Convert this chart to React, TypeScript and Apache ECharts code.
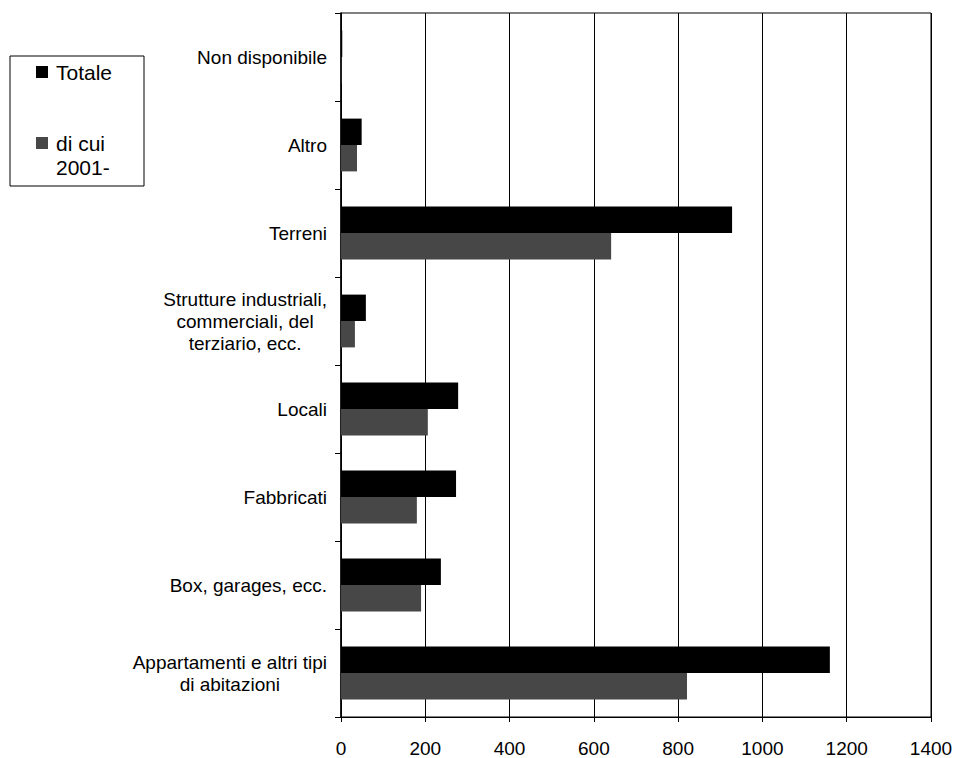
import React, { useEffect, useRef } from "react";
import * as echarts from "echarts";

const categories = [
  "Appartamenti e altri tipi di abitazioni",
  "Box, garages, ecc.",
  "Fabbricati",
  "Locali",
  "Strutture industriali, commerciali, del terziario, ecc.",
  "Terreni",
  "Altro",
  "Non disponibile",
];

// Wrapped label lines (as in the original)
const categoryLines: Record<string, string[]> = {
  "Appartamenti e altri tipi di abitazioni": ["Appartamenti e altri tipi", "di abitazioni"],
  "Strutture industriali, commerciali, del terziario, ecc.": [
    "Strutture industriali,",
    "commerciali, del",
    "terziario, ecc.",
  ],
};

const totale = [1160, 237, 273, 278, 59, 928, 49, 3];
const diCui2001 = [821, 190, 180, 206, 33, 641, 38, 1];

const xTicks = { min: 0, max: 1400, interval: 200 };

const FONT = "'Liberation Sans', Arial, Helvetica, sans-serif";
const GRAY = "#474747";

export default function App() {
  const ref = useRef<HTMLDivElement>(null);

  useEffect(() => {
    if (!ref.current) return;
    const chart = echarts.init(ref.current, undefined, { renderer: "svg" });
    chart.setOption({
      animation: false,
      backgroundColor: "#fff",
      grid: {
        left: 341,
        right: 26,
        top: 13,
        bottom: 40,
        show: true,
        borderColor: "#000",
        borderWidth: 1,
      },
      xAxis: {
        type: "value",
        min: xTicks.min,
        max: xTicks.max,
        interval: xTicks.interval,
        axisLine: { show: true, lineStyle: { color: "#000", width: 1 } },
        axisTick: { show: true, inside: false, length: 5, lineStyle: { color: "#000" } },
        splitLine: { show: true, lineStyle: { color: "#000", width: 1 } },
        axisLabel: {
          color: "#000",
          fontFamily: FONT,
          fontSize: 19,
          margin: 22,
          formatter: (v: number) => String(v),
        },
      },
      yAxis: {
        type: "category",
        data: categories,
        axisLine: { show: true, onZero: false, lineStyle: { color: "#000", width: 1.5 } },
        axisTick: { show: true, inside: false, length: 6, alignWithLabel: false, lineStyle: { color: "#000" } },
        splitLine: { show: false },
        axisLabel: {
          margin: 14,
          formatter: (v: string) => {
            const lines = categoryLines[v] || [v];
            return lines.map((l) => `{c|${l}}`).join("\n");
          },
          rich: {
            c: {
              align: "center",
              color: "#000",
              fontFamily: FONT,
              fontSize: 19,
              lineHeight: 22,
            },
          },
        },
      },
      series: [
        {
          name: "Totale",
          type: "bar",
          data: totale,
          barGap: "0%",
          barCategoryGap: "40%",
          itemStyle: { color: "#000" },
        },
        {
          name: "di cui 2001-",
          type: "bar",
          data: diCui2001,
          barGap: "0%",
          barCategoryGap: "40%",
          itemStyle: { color: GRAY },
        },
      ],
      graphic: [
        {
          type: "rect",
          shape: { x: 10, y: 56, width: 134, height: 130 },
          style: { fill: "#fff", stroke: "#000", lineWidth: 1 },
        },
        {
          type: "rect",
          shape: { x: 36, y: 66, width: 12, height: 12 },
          style: { fill: "#000" },
        },
        {
          type: "text",
          x: 56,
          y: 72,
          style: {
            text: "Totale",
            fill: "#000",
            font: `21px ${FONT}`,
            textVerticalAlign: "middle",
          },
        },
        {
          type: "rect",
          shape: { x: 36, y: 137, width: 12, height: 12 },
          style: { fill: GRAY },
        },
        {
          type: "text",
          x: 56,
          y: 143,
          style: {
            text: "di cui",
            fill: "#000",
            font: `21px ${FONT}`,
            textVerticalAlign: "middle",
          },
        },
        {
          type: "text",
          x: 56,
          y: 167,
          style: {
            text: "2001-",
            fill: "#000",
            font: `21px ${FONT}`,
            textVerticalAlign: "middle",
          },
        },
      ],
    });
    return () => chart.dispose();
  }, []);

  return (
    <div
      ref={ref}
      style={{ position: "fixed", left: 0, top: 0, width: 957, height: 758, background: "#fff" }}
    />
  );
}
